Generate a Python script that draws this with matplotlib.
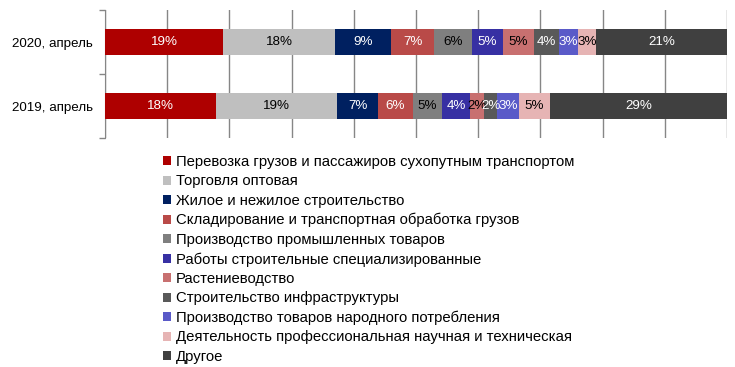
import numpy as np
import matplotlib.pyplot as plt
from matplotlib.ticker import MultipleLocator, FixedLocator

plt.rcParams['font.family'] = ['Liberation Sans', 'DejaVu Sans']

years = ["2020, апрель", "2019, апрель"]
sectors = [
    "Перевозка грузов и пассажиров сухопутным транспортом",
    "Торговля оптовая",
    "Жилое и нежилое строительство",
    "Складирование и транспортная обработка грузов",
    "Производство промышленных товаров",
    "Работы строительные специализированные",
    "Растениеводство",
    "Строительство инфраструктуры",
    "Производство товаров народного потребления",
    "Деятельность профессиональная научная и техническая",
    "Другое",
]
share_2020 = [19.0, 18.0, 9.0, 6.9, 6.1, 5.0, 5.0, 4.0, 3.0, 3.0, 21.0]
share_2019 = [17.8, 19.5, 6.6, 5.6, 4.7, 4.5, 2.3, 2.1, 3.4, 5.0, 28.5]
labels_2020 = ["19%", "18%", "9%", "7%", "6%", "5%", "5%", "4%", "3%", "3%", "21%"]
labels_2019 = ["18%", "19%", "7%", "6%", "5%", "4%", "2%", "2%", "3%", "5%", "29%"]
colors = ["#AE0000", "#BFBFBF", "#002060", "#B94A48", "#7F7F7F", "#3730A3",
          "#C87070", "#595959", "#5A5AC8", "#E6B4B4", "#404040"]
text_colors = ["white", "black", "white", "white", "black", "white",
               "black", "white", "white", "black", "white"]

fig = plt.figure(figsize=(7.35, 3.67), dpi=100)
ax = fig.add_axes([105 / 735, 1 - 138 / 367, 622 / 735, 128 / 367])

y = np.array([1, 0])
data = np.array([share_2020, share_2019])
labels = [labels_2020, labels_2019]
left = np.zeros(2)
handles = []
for i, name in enumerate(sectors):
    vals = data[:, i]
    bars = ax.barh(y, vals, left=left, height=0.4, color=colors[i], label=name, zorder=3)
    handles.append(bars)
    for j in range(2):
        ax.text(left[j] + vals[j] / 2, y[j], labels[j][i], ha="center", va="center",
                color=text_colors[i], fontsize=9.6, zorder=4)
    left += vals

ax.set_xlim(0, 100)
ax.set_ylim(-0.5, 1.5)
ax.xaxis.set_major_locator(MultipleLocator(10))
ax.tick_params(axis="x", bottom=False, labelbottom=False)
ax.grid(axis="x", color="#868686", linewidth=1, zorder=0)
ax.set_yticks(y)
ax.set_yticklabels(years, fontsize=9.6)
ax.yaxis.set_minor_locator(FixedLocator([-0.5, 0.5, 1.5]))
ax.tick_params(axis="y", which="major", length=0, pad=9)
ax.tick_params(axis="y", which="minor", length=4, color="#868686", width=1)
for s in ["top", "right", "bottom"]:
    ax.spines[s].set_visible(False)
ax.spines["left"].set_color("#868686")

fig.legend(handles=handles, loc="upper left", bbox_to_anchor=(163 / 735, 1 - 155 / 367),
           frameon=False, fontsize=10.7, handlelength=0.55, handleheight=0.55,
           handletextpad=0.3, labelspacing=0.36, borderaxespad=0, borderpad=0)

fig.savefig("out.png", dpi=100)
